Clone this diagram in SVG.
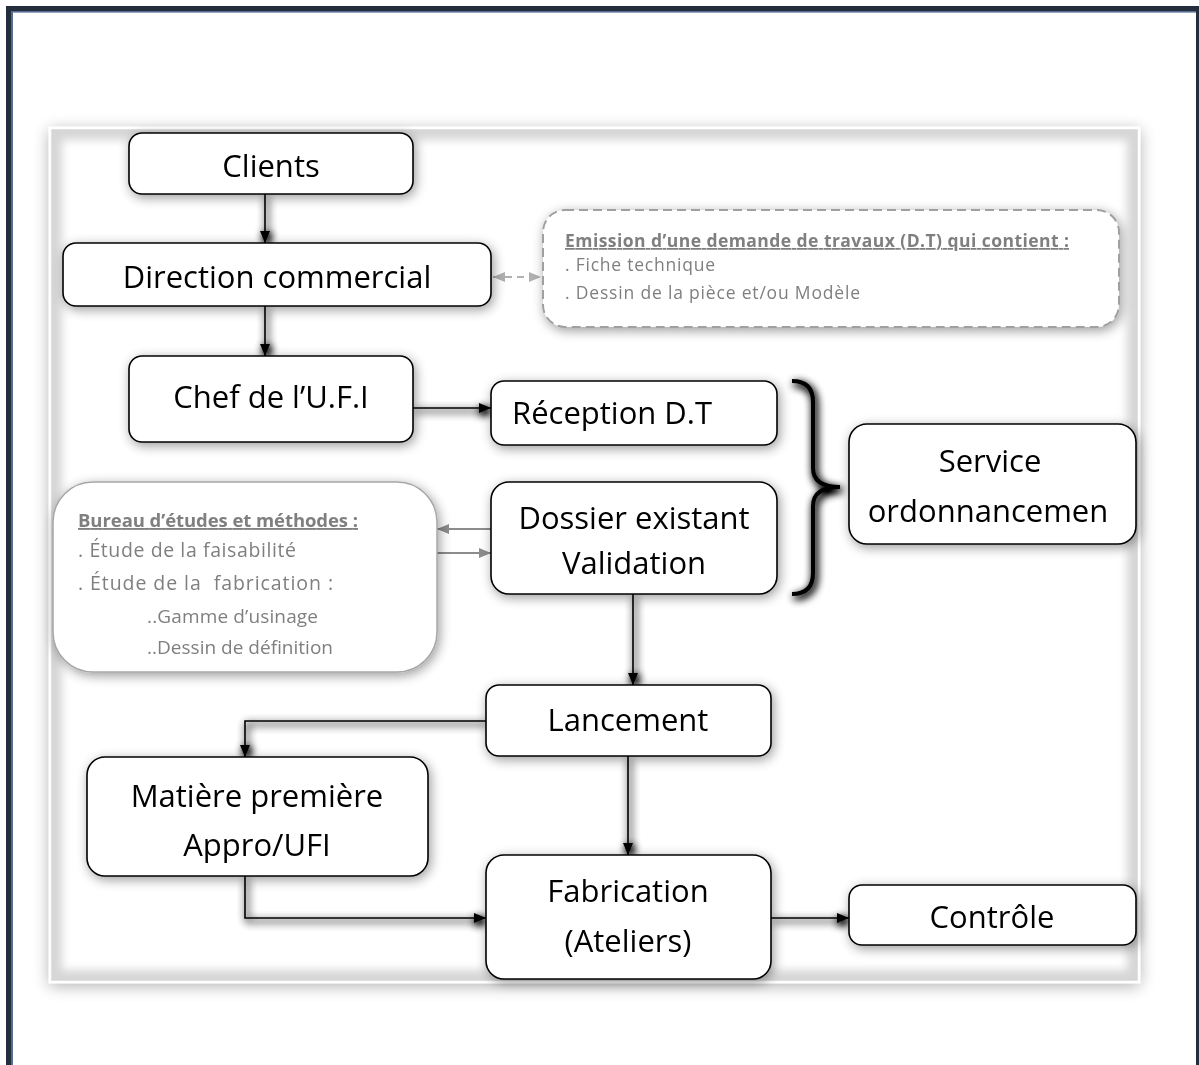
<svg xmlns="http://www.w3.org/2000/svg" width="1199" height="1065" viewBox="0 0 1199 1065">
<style>
.node rect{fill:#fff;stroke:#000;stroke-width:1.6}
.t{font-family:"Open Sans","Liberation Sans",sans-serif;font-size:31px;fill:#000}
.g{font-family:"Open Sans","Liberation Sans",sans-serif;fill:#7f7f7f}
.conn{fill:none;stroke:#000;stroke-width:1.6}
.gconn{fill:none;stroke:#8c8c8c;stroke-width:2}
</style>
<defs>
<filter id="sh" filterUnits="userSpaceOnUse" x="0" y="0" width="1199" height="1065">
<feGaussianBlur in="SourceAlpha" stdDeviation="6"/><feOffset dx="2" dy="3"/>
<feComponentTransfer><feFuncA type="linear" slope="0.4"/></feComponentTransfer>
<feMerge><feMergeNode/><feMergeNode in="SourceGraphic"/></feMerge>
</filter>
<filter id="lsh" filterUnits="userSpaceOnUse" x="0" y="0" width="1199" height="1065">
<feGaussianBlur in="SourceAlpha" stdDeviation="4"/><feOffset dx="2" dy="3"/>
<feComponentTransfer><feFuncA type="linear" slope="1.8"/></feComponentTransfer>
<feMerge><feMergeNode/><feMergeNode in="SourceGraphic"/></feMerge>
</filter>
<filter id="blur" filterUnits="userSpaceOnUse" x="0" y="0" width="1199" height="1065">
<feGaussianBlur stdDeviation="4"/>
</filter>
<filter id="fsh" filterUnits="userSpaceOnUse" x="0" y="0" width="1199" height="1065">
<feGaussianBlur in="SourceAlpha" stdDeviation="8"/><feOffset dx="0" dy="3"/>
<feComponentTransfer><feFuncA type="linear" slope="0.3"/></feComponentTransfer>
<feMerge><feMergeNode/><feMergeNode in="SourceGraphic"/></feMerge>
</filter>
<marker id="ah" viewBox="0 0 12 10" refX="12" refY="5" markerWidth="12" markerHeight="10" markerUnits="userSpaceOnUse" orient="auto"><path d="M0,0 L12,5 L0,10 z" fill="#000"/></marker>
<marker id="gah" viewBox="0 0 12 10" refX="12" refY="5" markerWidth="12" markerHeight="10" markerUnits="userSpaceOnUse" orient="auto-start-reverse"><path d="M0,0 L12,5 L0,10 z" fill="#8c8c8c"/></marker>
<marker id="lah" viewBox="0 0 12 10" refX="12" refY="5" markerWidth="12" markerHeight="10" markerUnits="userSpaceOnUse" orient="auto-start-reverse"><path d="M0,0 L12,5 L0,10 z" fill="#b0b0b0"/></marker>
</defs>

<rect x="0" y="0" width="1199" height="1065" fill="#fff"/>

<g id="page-frame">
<rect x="6" y="6" width="1193" height="6" fill="#242e3d"/>
<rect x="6" y="6" width="6" height="1059" fill="#242e3d"/>
<rect x="1196" y="6" width="3" height="1059" fill="#242e3d"/>
<rect x="11" y="11" width="1185" height="1.6" fill="#566d92"/>
<rect x="11" y="11" width="2" height="1054" fill="#566d92"/>
</g>

<g id="inner-frame">
<rect x="50" y="128" width="1089" height="854" fill="#d6d6d6" stroke="#fff" stroke-width="2.5" filter="url(#fsh)"/>
<rect x="62" y="140" width="1065" height="830" fill="#fff" filter="url(#blur)"/>
</g>

<g id="connectors">
<g filter="url(#lsh)">
<path class="conn" d="M265 194 V243" marker-end="url(#ah)"/>
<path class="conn" d="M265 306 V356" marker-end="url(#ah)"/>
<path class="conn" d="M413 408 H491" marker-end="url(#ah)"/>
<path class="conn" d="M633 594 V685" marker-end="url(#ah)"/>
<path class="conn" d="M486 721 H245 V757" marker-end="url(#ah)"/>
<path class="conn" d="M628 756 V855" marker-end="url(#ah)"/>
<path class="conn" d="M245 876 V918 H486" marker-end="url(#ah)"/>
<path class="conn" d="M771 918 H849" marker-end="url(#ah)"/>
<path d="M792 381 Q813 381 813 402 L813 468 Q813 487 840 487 Q813 487 813 506 L813 573 Q813 594 792 594" fill="none" stroke="#000" stroke-width="4"/>
</g>
<path d="M493 277 H541" fill="none" stroke="#b0b0b0" stroke-width="2" stroke-dasharray="7 5" marker-start="url(#lah)" marker-end="url(#lah)"/>
<path class="gconn" d="M491 529 H437" marker-end="url(#gah)"/>
<path class="gconn" d="M437 553 H491" marker-end="url(#gah)"/>
</g>

<g id="node-clients" class="node" filter="url(#sh)">
<rect x="129" y="133" width="284" height="61" rx="13"/>
<text class="t" x="271" y="177" text-anchor="middle">Clients</text>
</g>
<g id="node-direction" class="node" filter="url(#sh)">
<rect x="63" y="243" width="428" height="63" rx="13"/>
<text class="t" x="277" y="288" text-anchor="middle">Direction commercial</text>
</g>
<g id="node-dt" filter="url(#sh)">
<rect x="543" y="210" width="576" height="117" rx="22" fill="#fff" stroke="#a0a0a0" stroke-width="2" stroke-dasharray="9 5"/>
<text class="g" x="565" y="247" font-size="17.5" font-weight="bold" text-decoration="underline" textLength="504">Emission d’une demande de travaux (D.T) qui contient :</text>
<text class="g" x="565" y="271" font-size="17.5" textLength="150">. Fiche technique</text>
<text class="g" x="565" y="299" font-size="17.5" textLength="295">. Dessin de la pièce et/ou Modèle</text>
</g>
<g id="node-chef" class="node" filter="url(#sh)">
<rect x="129" y="356" width="284" height="86" rx="13"/>
<text class="t" x="271" y="408" text-anchor="middle">Chef de l’U.F.I</text>
</g>
<g id="node-reception" class="node" filter="url(#sh)">
<rect x="491" y="381" width="286" height="64" rx="13"/>
<text class="t" x="512" y="424">Réception D.T</text>
</g>
<g id="node-dossier" class="node" filter="url(#sh)">
<rect x="491" y="482" width="286" height="112" rx="18"/>
<text class="t" x="634" y="529" text-anchor="middle">Dossier existant</text>
<text class="t" x="634" y="574" text-anchor="middle">Validation</text>
</g>
<g id="node-bureau" filter="url(#sh)">
<rect x="53" y="482" width="384" height="190" rx="40" fill="#fff" stroke="#a6a6a6" stroke-width="1.5"/>
<text class="g" x="78" y="527" font-size="18.5" font-weight="bold" text-decoration="underline" textLength="280">Bureau d’études et méthodes :</text>
<text class="g" x="78" y="557" font-size="19.5" textLength="218">. Étude de la faisabilité</text>
<text class="g" x="78" y="590" font-size="19.5" textLength="255" xml:space="preserve">. Étude de la  fabrication :</text>
<text class="g" x="147" y="623" font-size="19" textLength="171">..Gamme d’usinage</text>
<text class="g" x="147" y="654" font-size="19" textLength="186">..Dessin de définition</text>
</g>
<g id="node-service" class="node" filter="url(#sh)">
<rect x="849" y="424" width="287" height="120" rx="18"/>
<text class="t" x="990" y="472" text-anchor="middle">Service</text>
<text class="t" x="988" y="522" text-anchor="middle">ordonnancemen</text>
</g>
<g id="node-lancement" class="node" filter="url(#sh)">
<rect x="486" y="685" width="285" height="71" rx="13"/>
<text class="t" x="628" y="731" text-anchor="middle">Lancement</text>
</g>
<g id="node-matiere" class="node" filter="url(#sh)">
<rect x="87" y="757" width="341" height="119" rx="18"/>
<text class="t" x="257" y="807" text-anchor="middle">Matière première</text>
<text class="t" x="257" y="856" text-anchor="middle">Appro/UFI</text>
</g>
<g id="node-fabrication" class="node" filter="url(#sh)">
<rect x="486" y="855" width="285" height="124" rx="18"/>
<text class="t" x="628" y="902" text-anchor="middle">Fabrication</text>
<text class="t" x="628" y="952" text-anchor="middle">(Ateliers)</text>
</g>
<g id="node-controle" class="node" filter="url(#sh)">
<rect x="849" y="885" width="287" height="60" rx="13"/>
<text class="t" x="992" y="928" text-anchor="middle">Contrôle</text>
</g>
</svg>
